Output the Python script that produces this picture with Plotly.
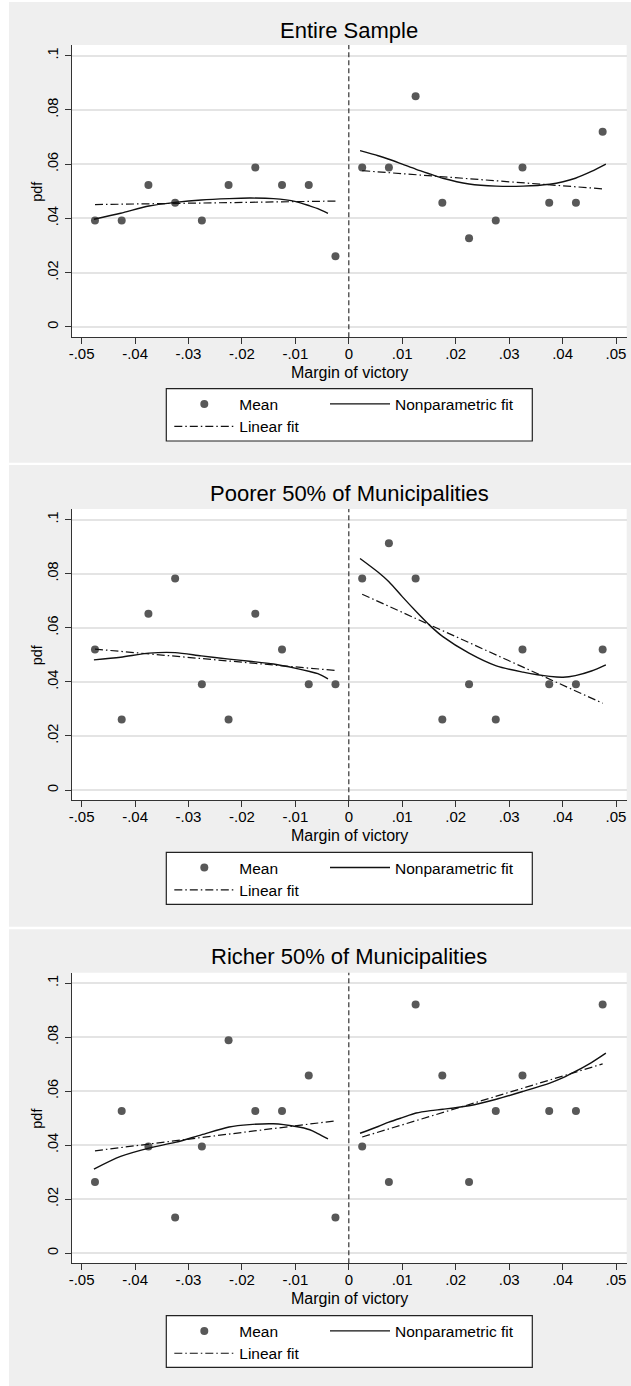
import plotly.graph_objects as go

W, H = 631, 1386

# ---------------- data ----------------
bins = [-0.0475, -0.0425, -0.0375, -0.0325, -0.0275, -0.0225, -0.0175, -0.0125, -0.0075, -0.0025,
        0.0025, 0.0075, 0.0125, 0.0175, 0.0225, 0.0275, 0.0325, 0.0375, 0.0425, 0.0475]

titles = ["Entire Sample", "Poorer 50% of Municipalities", "Richer 50% of Municipalities"]

mean_all = [0.0392, 0.0392, 0.0523, 0.0458, 0.0392, 0.0523, 0.0588, 0.0523, 0.0523, 0.0261,
            0.0588, 0.0588, 0.0850, 0.0458, 0.0327, 0.0392, 0.0588, 0.0458, 0.0458, 0.0719]
mean_poor = [0.0520, 0.0261, 0.0652, 0.0782, 0.0391, 0.0261, 0.0652, 0.0520, 0.0391, 0.0391,
             0.0782, 0.0912, 0.0782, 0.0261, 0.0391, 0.0261, 0.0520, 0.0391, 0.0391, 0.0520]
mean_rich = [0.0263, 0.0526, 0.0395, 0.0132, 0.0395, 0.0789, 0.0526, 0.0526, 0.0658, 0.0132,
             0.0395, 0.0263, 0.0921, 0.0658, 0.0263, 0.0526, 0.0658, 0.0526, 0.0526, 0.0921]

np_left_x = [-0.0477, -0.0427, -0.0374, -0.0325, -0.0276, -0.0224, -0.0186, -0.0141, -0.0099, -0.0073, -0.0058, -0.0039]
np_right_x = [0.0021, 0.0055, 0.0075, 0.0100, 0.0126, 0.0153, 0.0176, 0.0225, 0.0276, 0.0326, 0.0376, 0.0401, 0.0424, 0.0454, 0.0481]

np_all_left = [0.0397, 0.0419, 0.0446, 0.0459, 0.0468, 0.0473, 0.0475, 0.0473, 0.0462, 0.0446, 0.0436, 0.0419]
np_all_right = [0.0650, 0.0631, 0.0618, 0.0600, 0.0581, 0.0563, 0.0548, 0.0527, 0.0519, 0.0519, 0.0526, 0.0535, 0.0548, 0.0573, 0.0600]
np_poor_left = [0.0481, 0.0491, 0.0506, 0.0508, 0.0496, 0.0484, 0.0476, 0.0466, 0.0450, 0.0438, 0.0430, 0.0411]
np_poor_right = [0.0856, 0.0805, 0.0770, 0.0715, 0.0660, 0.0606, 0.0567, 0.0506, 0.0459, 0.0436, 0.0420, 0.0417, 0.0423, 0.0440, 0.0463]
np_rich_left = [0.0311, 0.0358, 0.0389, 0.0410, 0.0438, 0.0467, 0.0476, 0.0479, 0.0469, 0.0457, 0.0443, 0.0423]
np_rich_right = [0.0444, 0.0469, 0.0485, 0.0502, 0.0519, 0.0528, 0.0533, 0.0546, 0.0570, 0.0599, 0.0630, 0.0650, 0.0673, 0.0706, 0.0741]

lin_left_x = [-0.0475, -0.0025]
lin_right_x = [0.0025, 0.0475]
lin_all_left = [0.0451, 0.0464]
lin_all_right = [0.0576, 0.0509]
lin_poor_left = [0.0521, 0.0442]
lin_poor_right = [0.0724, 0.0321]
lin_rich_left = [0.0379, 0.0490]
lin_rich_right = [0.0430, 0.0701]

x_tickvals = [-0.05, -0.04, -0.03, -0.02, -0.01, 0, 0.01, 0.02, 0.03, 0.04, 0.05]
x_ticktext = ["-.05", "-.04", "-.03", "-.02", "-.01", "0", ".01", ".02", ".03", ".04", ".05"]
y_tickvals = [0, 0.02, 0.04, 0.06, 0.08, 0.1]
y_ticktext = ["0", ".02", ".04", ".06", ".08", ".1"]

legend_names = ["Mean", "Nonparametric fit", "Linear fit"]

panels_data = [
    (mean_all, np_all_left, np_all_right, lin_all_left, lin_all_right),
    (mean_poor, np_poor_left, np_poor_right, lin_poor_left, lin_poor_right),
    (mean_rich, np_rich_left, np_rich_right, lin_rich_left, lin_rich_right),
]

# ---------------- layout geometry (pixels) ----------------
geo = [
    dict(top=45, bot=337.3, title_y=30, leg_top=388.7, leg_bot=441, bg=(2, 462.7)),
    dict(top=509, bot=800.3, title_y=493.3, leg_top=852.3, leg_bot=904.3, bg=(465, 926.7)),
    dict(top=972.7, bot=1263.3, title_y=956, leg_top=1315.7, leg_bot=1367.3, bg=(929.3, 1386)),
]
PX_L, PX_R = 72, 626.7
FONT = "Liberation Sans, Arial, Helvetica, sans-serif"
BG = "#efefef"
MARK = "#585858"
LINE = "#111111"
AX = "#333333"
DASHDOT = "8px,3px,1.5px,3px"


def fy(px):
    return 1 - px / H


def fx(px):
    return px / W


fig = go.Figure()
shapes = []
annotations = []
layout_extra = {}

LEG_OFF = -1  # plotly legend inner offset (calibrated)

for i, (means, npl, npr, linl, linr) in enumerate(panels_data):
    g = geo[i]
    s = "" if i == 0 else str(i + 1)
    xa, ya = "x" + s, "y" + s
    leg_ids = ["legend" + ("" if 3 * i + k == 0 else str(3 * i + k + 1)) for k in range(3)]

    fig.add_trace(go.Scatter(x=bins, y=means, mode="markers", name=legend_names[0],
                             marker=dict(color=MARK, size=8), xaxis=xa, yaxis=ya,
                             legend=leg_ids[0], showlegend=True))
    fig.add_trace(go.Scatter(x=np_left_x, y=npl, mode="lines", name=legend_names[1],
                             line=dict(color=LINE, width=1.4, shape="spline", smoothing=0.8),
                             xaxis=xa, yaxis=ya, legend=leg_ids[1], showlegend=True))
    fig.add_trace(go.Scatter(x=np_right_x, y=npr, mode="lines", name=legend_names[1],
                             line=dict(color=LINE, width=1.4, shape="spline", smoothing=0.8),
                             xaxis=xa, yaxis=ya, legend=leg_ids[1], showlegend=False))
    fig.add_trace(go.Scatter(x=lin_left_x, y=linl, mode="lines", name=legend_names[2],
                             line=dict(color=LINE, width=1.2, dash=DASHDOT),
                             xaxis=xa, yaxis=ya, legend=leg_ids[2], showlegend=True))
    fig.add_trace(go.Scatter(x=lin_right_x, y=linr, mode="lines", name=legend_names[2],
                             line=dict(color=LINE, width=1.2, dash=DASHDOT),
                             xaxis=xa, yaxis=ya, legend=leg_ids[2], showlegend=False))

    # panel background
    shapes.append(dict(type="rect", xref="paper", yref="paper", x0=fx(9), x1=1,
                       y0=fy(g["bg"][1]), y1=fy(g["bg"][0]), fillcolor=BG, line_width=0, layer="below"))
    shapes.append(dict(type="rect", xref=xa + " domain", yref=ya + " domain", x0=0, x1=1, y0=0, y1=1,
                       fillcolor="white", line_width=0, layer="below"))
    # zero dashed line
    shapes.append(dict(type="line", xref=xa, yref=ya + " domain", x0=0, x1=0, y0=0, y1=1,
                       line=dict(color="#222222", width=1.1, dash="5px,3px")))
    # legend box
    shapes.append(dict(type="rect", xref="paper", yref="paper", x0=fx(166.3), x1=fx(532.3),
                       y0=fy(g["leg_bot"]), y1=fy(g["leg_top"]), fillcolor="white",
                       line=dict(color="#222222", width=1.2), layer="below"))

    row1 = g["leg_top"] + 15.6
    row2 = g["leg_top"] + 38
    item_pos = [(168.3, row1), (324.0, row1), (168.3, row2)]
    for k in range(3):
        layout_extra[leg_ids[k]] = dict(
            x=fx(item_pos[k][0] - LEG_OFF), y=fy(item_pos[k][1]), xanchor="left", yanchor="middle",
            bgcolor="rgba(0,0,0,0)", borderwidth=0, itemwidth=60,
            font=dict(family=FONT, size=15.5, color="black"), orientation="v")

    dom_y = [fy(g["bot"]), fy(g["top"])]
    layout_extra["xaxis" + s] = dict(
        domain=[fx(PX_L), fx(PX_R)], range=[-0.0518, 0.052], anchor=ya,
        tickvals=x_tickvals, ticktext=x_ticktext, ticks="outside", ticklen=6, tickwidth=1,
        tickcolor=AX, showline=True, linecolor=AX, linewidth=1.2, showgrid=False, zeroline=False,
        ticklabelstandoff=-3,
        tickfont=dict(family=FONT, size=15, color="black"))
    layout_extra["yaxis" + s] = dict(
        domain=dom_y, range=[-0.0038, 0.1039], anchor=xa,
        tickvals=y_tickvals, ticktext=y_ticktext, ticks="outside", ticklen=6, tickwidth=1,
        tickcolor=AX, showline=True, linecolor=AX, linewidth=1.2, showgrid=True,
        gridcolor="#e4e4e4", gridwidth=1.5, zeroline=False, tickangle=-90,
        ticklabelstandoff=1,
        tickfont=dict(family=FONT, size=14.5, color="black"))

    # titles
    cx = fx((PX_L + PX_R) / 2)
    annotations.append(dict(text=titles[i], xref="paper", yref="paper", x=cx, y=fy(g["title_y"]),
                            xanchor="center", yanchor="middle", showarrow=False,
                            font=dict(family=FONT, size=22, color="black")))
    annotations.append(dict(text="Margin of victory", xref="paper", yref="paper", x=cx,
                            y=fy(g["bot"] + 35), xanchor="center", yanchor="middle", showarrow=False,
                            font=dict(family=FONT, size=16, color="black")))
    annotations.append(dict(text="pdf", xref="paper", yref="paper", x=fx(36.7),
                            y=fy((g["top"] + g["bot"]) / 2), xanchor="center", yanchor="middle",
                            showarrow=False, textangle=-90,
                            font=dict(family=FONT, size=14.5, color="black")))

fig.update_layout(
    width=W, height=H, margin=dict(l=0, r=0, t=0, b=0),
    paper_bgcolor="white", plot_bgcolor="white", template="none",
    font=dict(family=FONT, color="black"),
    shapes=shapes, annotations=annotations, **layout_extra)

fig.write_html("out.html", config={"displayModeBar": False},
               post_script="document.body.style.margin='0px';document.body.style.overflow='hidden';")
